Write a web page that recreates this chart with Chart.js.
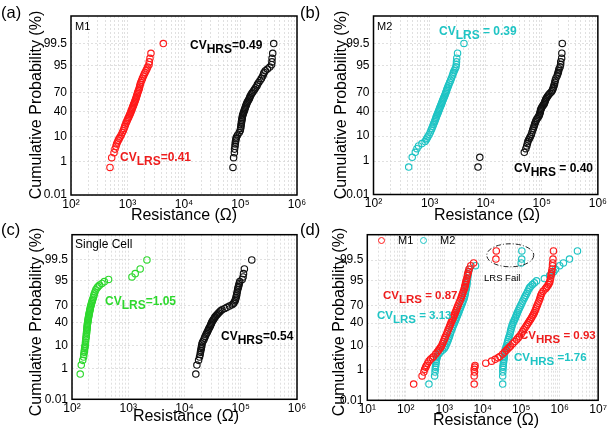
<!DOCTYPE html>
<html>
<head>
<meta charset="utf-8">
<script src="https://cdn.jsdelivr.net/npm/chart.js@4.4.1/dist/chart.umd.min.js"></script>
<style>
  html, body { margin:0; padding:0; background:#fff; }
  body { width:609px; height:433px; position:relative; overflow:hidden; font-family:'Liberation Sans', Arial, sans-serif; }
  canvas { position:absolute; left:0; top:0; }
  .t { position:absolute; white-space:nowrap; line-height:1; color:#000; }
  .pl { font-size:16.5px; }
  .yt { position:absolute; white-space:nowrap; line-height:1; font-size:16px; transform:translate(-50%,-50%) rotate(-90deg); }
  .xt { position:absolute; white-space:nowrap; line-height:1; font-size:16px; transform:translate(-50%,-50%); }
  .cv { font-weight:bold; font-size:12px; }
  .cv .s { position:relative; top:4px; }
  .cvd { font-weight:bold; font-size:11.5px; }
  .cvd .s { position:relative; top:4px; }
  .sm { font-size:11px; }
  .lc { position:absolute; width:7px; height:7px; box-sizing:border-box; border:1px solid; border-radius:50%; }
</style>
</head>
<body>
<canvas id="ca" width="609" height="433"></canvas>
<canvas id="cb" width="609" height="433"></canvas>
<canvas id="cc" width="609" height="433"></canvas>
<canvas id="cd" width="609" height="433"></canvas>

<div class="t pl" style="left:1px;top:4px">(a)</div>
<div class="t pl" style="left:300px;top:4px">(b)</div>
<div class="t pl" style="left:1px;top:221px">(c)</div>
<div class="t pl" style="left:300px;top:221px">(d)</div>

<div class="yt" style="left:36px;top:105px">Cumulative Probability (%)</div>
<div class="yt" style="left:341px;top:105px">Cumulative Probability (%)</div>
<div class="yt" style="left:36px;top:322px">Cumulative Probability (%)</div>
<div class="yt" style="left:339px;top:322px">Cumulative Probability (%)</div>

<div class="xt" style="left:184px;top:215px">Resistance (Ω)</div>
<div class="xt" style="left:487px;top:215px">Resistance (Ω)</div>
<div class="xt" style="left:186px;top:416px">Resistance (Ω)</div>
<div class="xt" style="left:486px;top:420px">Resistance (Ω)</div>

<div class="t sm" style="left:75px;top:21px">M1</div>
<div class="t cv" style="left:190px;top:39px">CV<span class="s">HRS</span>=0.49</div>
<div class="t cv" style="left:120px;top:151px;color:#ee1c1c">CV<span class="s">LRS</span>=0.41</div>

<div class="t sm" style="left:377px;top:21px">M2</div>
<div class="t cv" style="left:439px;top:25px;color:#1fc4c4">CV<span class="s">LRS</span> = 0.39</div>
<div class="t cv" style="left:514px;top:162px">CV<span class="s">HRS</span> = 0.40</div>

<div class="t" style="left:75px;top:238px;font-size:12px">Single Cell</div>
<div class="t cv" style="left:105px;top:295px;color:#2ed82e">CV<span class="s">LRS</span>=1.05</div>
<div class="t cv" style="left:221px;top:330px">CV<span class="s">HRS</span>=0.54</div>

<span class="lc" style="left:378px;top:236.5px;border-color:#ff1a1a"></span>
<div class="t sm" style="left:398px;top:235px">M1</div>
<span class="lc" style="left:420px;top:236.5px;border-color:#1fc4c4"></span>
<div class="t sm" style="left:440px;top:235px">M2</div>
<div class="t cvd" style="left:383px;top:290px;color:#ee1c1c">CV<span class="s">LRS</span> = 0.87</div>
<div class="t cvd" style="left:377px;top:310px;color:#1fc4c4">CV<span class="s">LRS</span> = 3.13</div>
<div class="t cvd" style="left:520px;top:330px;color:#ee1c1c">CV<span class="s">HRS</span> = 0.93</div>
<div class="t cvd" style="left:514px;top:352px;color:#1fc4c4">CV<span class="s">HRS</span> =1.76</div>
<div class="t" style="left:484px;top:273px;font-size:9.5px">LRS Fail</div>

<script>
// ---------------- data ----------------
// cumulative probability (%) of each plotted point, panels a-c
const probABC = [
  0.5,1.5,2.5,3.5,4.5,5.5,6.5,7.5,8.5,9.5,
  11,13,15,17,19,21,23,25,27,29,
  31,33,35,37,39,41,43,45,47,49,
  51,53,55,57,59,61,63,65,67,69,
  71,73,75,77,79,81,83,85,87,89,
  90.5,91.5,92.5,93.5,94.5,95.5,96.5,97.5,98.5,99.5
];
// resistance (ohm), panel (a) M1
const aLRS = [
  490,525,577,601,625,642,665,689,715,740,
  775,810,844,868,892,915,940,965,990,1015,
  1045,1070,1095,1120,1145,1165,1190,1210,1235,1260,
  1280,1305,1330,1355,1380,1405,1430,1450,1475,1500,
  1525,1560,1600,1625,1650,1680,1720,1780,1840,1920,
  1985,2050,2125,2200,2276,2400,2430,2500,2600,4300
];
const aHRS = [
  73500,75500,78000,78500,80000,80500,81500,82500,83500,85000,
  89000,95000,99000,100500,101500,102500,103500,104500,105500,106500,
  107500,108500,110000,112000,114000,116000,118000,120000,122000,124000,
  126500,129000,131000,135000,139000,143000,146000,148500,153000,158000,
  164000,171000,178000,185000,195000,200000,210000,222000,235000,248000,
  256000,262000,275000,300000,330000,355000,360000,362000,372000,387000
];
// panel (b) M2
const bLRS = [
  424,490,556,594,636,730,830,870,900,930,
  980,1030,1070,1105,1140,1170,1200,1230,1260,1290,
  1310,1340,1370,1400,1430,1455,1485,1515,1545,1575,
  1610,1640,1670,1700,1735,1775,1810,1850,1890,1930,
  1970,2010,2050,2100,2160,2220,2290,2370,2450,2550,
  2620,2680,2750,2850,2950,3000,3020,3050,3150,4100
];
const bHRS = [
  7300,7850,48800,52000,54000,55500,56500,58500,60500,62500,
  65000,67000,69000,71000,73000,74500,76000,78000,80000,83000,
  86500,89500,91000,92500,94000,95000,96000,98500,101000,104000,
  108000,111000,113000,115000,117000,120000,124000,128000,133000,140000,
  148000,154000,158000,161000,165000,168000,171000,174000,179000,188000,
  193000,197000,200000,203000,212000,217000,218000,226000,228000,232000
];
// panel (c) single cell
const cLRS = [
  140,146,155,161,162,165,166,168,169,171,
  173,174,175,177,179,180,181,182,183,184,
  185,186,187,188,189,191,192,193,195,196,
  198,200,201,203,205,207,209,211,213,216,
  219,222,226,230,234,240,244,249,256,265,
  278,290,309,341,375,447,1164,1330,1630,2150
];
const cHRS = [
  15900,16600,17800,18500,19000,19200,19500,19800,20000,20200,
  20400,21000,22000,22700,23300,24000,24800,25500,26200,26800,
  27500,28300,29000,29500,30200,30700,31500,32500,33500,34500,
  35300,37000,38500,40200,42000,44000,46500,52000,57000,63000,
  70000,74500,77000,79500,81000,82500,84000,85000,86500,88000,
  89500,91000,92500,94000,96000,106000,110000,112000,116000,157000
];
// panel (d): cumulative probability (%) of each plotted point
const probD = [
  0.14,0.43,0.71,1.0,1.29,1.57,2.0,2.5,3,3.5,
  4,5,6,7,8,9,10,12,14,16,
  18,20,23,26,29,32,35,38,41,44,
  47,50,53,56,59,62,65,68,71,74,
  77,80,82,84,86,88,90,91,92,93,
  94,95,96,97,97.5,98,98.5,99,99.29,99.57,99.86
];
const dM1LRS = [
  160,265,295,310,330,345,370,400,440,490,
  530,600,660,710,760,810,850,900,950,1000,
  1040,1080,1150,1210,1270,1330,1390,1450,1510,1580,
  1650,1720,1790,1860,1940,2020,2100,2200,2300,2420,
  2550,2700,2800,2900,3000,3150,3300,3380,3450,3520,
  3600,3700,3850,4000,4100,4250,4400,4900,5800,22000,22500
];
const dM1HRS = [
  6000,6000,6100,6000,6200,6300,12000,17000,21000,25000,
  28000,33000,37000,41000,45000,49000,53000,60000,68000,76000,
  83000,90000,100000,108000,116000,125000,135000,145000,155000,165000,
  176000,187000,198000,210000,220000,230000,240000,250000,262000,275000,
  290000,305000,315000,325000,340000,370000,420000,450000,480000,510000,
  540000,560000,580000,595000,605000,620000,635000,650000,660000,670000,690000
];
const dM2LRS = [
  400,560,575,585,590,600,610,620,630,640,
  660,720,800,900,990,1040,1090,1160,1220,1270,
  1320,1370,1430,1490,1560,1630,1700,1780,1860,1940,
  2020,2100,2180,2270,2370,2470,2570,2680,2800,2950,
  3100,3250,3350,3430,3520,3600,3700,3750,3800,3850,
  3900,3950,4050,4150,4200,4280,4500,6500,100000,103000,104000
];
const dM2HRS = [
  33000,33000,33200,33400,33600,34000,34500,35000,35500,36000,
  36300,36900,37500,38500,39500,40500,41500,43000,44500,46000,
  47500,49000,51000,52500,54000,55500,57500,59500,62000,65000,
  68000,71000,74000,77000,80000,84000,88000,93000,98000,104000,
  110000,118000,124000,131000,139000,148000,158000,166000,178000,195000,
  220000,250000,400000,550000,620000,700000,780000,1000000,1250000,1800000,2900000
];
// axis ticks
const yTickValues = [0.01, 1, 10, 40, 70, 95, 99.5];
const yTickLabels = ['0.01', '1', '10', '40', '70', '95', '99.5'];
const xTickValuesABC = [1e2, 1e3, 1e4, 1e5, 1e6];
const xTickLabelsABC = ['10²', '10³', '10⁴', '10⁵', '10⁶'];
const xTickValuesD = [1e1, 1e2, 1e3, 1e4, 1e5, 1e6, 1e7];
const xTickLabelsD = ['10¹', '10²', '10³', '10⁴', '10⁵', '10⁶', '10⁷'];
// "LRS Fail" ellipse centre (resistance, probability %)
const failR = 52000, failP = 99.74;

// ---------------- helpers ----------------
const RED = '#ff1a1a', CYAN = '#1fc4c4', GREEN = '#2ed82e', BLACK = '#111';
const FONT = "'Liberation Sans Narrow', 'Liberation Sans', Arial, sans-serif";
const W = 609, H = 433;

// inverse standard normal CDF (probability axis transform)
function probit(p) {
  const a=[-3.969683028665376e+01,2.209460984245205e+02,-2.759285104469687e+02,1.383577518672690e+02,-3.066479806614716e+01,2.506628277459239e+00];
  const b=[-5.447609879822406e+01,1.615858368580409e+02,-1.556989798598866e+02,6.680131188771972e+01,-1.328068155288572e+01];
  const c=[-7.784894002430293e-03,-3.223964580411365e-01,-2.400758277161838e+00,-2.549732516109123e+00,4.374664141464968e+00,2.938163982698783e+00];
  const d=[7.784695709041462e-03,3.224671290700398e-01,2.445134137142996e+00,3.754408661907416e+00];
  const pl = 0.02425, ph = 1 - pl;
  let q, r;
  if (p < pl) { q = Math.sqrt(-2*Math.log(p)); return (((((c[0]*q+c[1])*q+c[2])*q+c[3])*q+c[4])*q+c[5])/((((d[0]*q+d[1])*q+d[2])*q+d[3])*q+1); }
  if (p <= ph) { q = p - 0.5; r = q*q; return (((((a[0]*r+a[1])*r+a[2])*r+a[3])*r+a[4])*r+a[5])*q/(((((b[0]*r+b[1])*r+b[2])*r+b[3])*r+b[4])*r+1); }
  q = Math.sqrt(-2*Math.log(1-p)); return -(((((c[0]*q+c[1])*q+c[2])*q+c[3])*q+c[4])*q+c[5])/((((d[0]*q+d[1])*q+d[2])*q+d[3])*q+1);
}
const ZMAX = -probit(0.0001);

const framePlugin = {
  id: 'frame',
  afterDraw(chart, args, opts) {
    const { ctx, chartArea: a } = chart;
    ctx.save();
    if (opts && opts.ellipse) {
      const e = opts.ellipse;
      const cx = chart.scales.x.getPixelForValue(e.r);
      const cy = chart.scales.y.getPixelForValue(probit(e.p / 100));
      ctx.beginPath();
      ctx.setLineDash([5, 2, 1, 2]);
      ctx.strokeStyle = '#222';
      ctx.lineWidth = 1;
      ctx.ellipse(cx, cy, 23.5, 11.5, 0, 0, Math.PI * 2);
      ctx.stroke();
      ctx.setLineDash([]);
    }
    ctx.strokeStyle = '#000';
    ctx.lineWidth = 1.5;
    ctx.strokeRect(a.left, a.top, a.right - a.left, a.bottom - a.top);
    ctx.restore();
  }
};

function makePanel(id, area, xTicks, xLabels, series, frameOpts) {
  const YW = 40, XH = 22;
  const gridVals = [];
  for (let i = 0; i < xTicks.length - 1; i++) for (let k = 1; k < 10; k++) gridVals.push(xTicks[i] * k);
  gridVals.push(xTicks[xTicks.length - 1]);
  return new Chart(document.getElementById(id), {
    type: 'scatter',
    data: {
      datasets: series.map(s => ({
        data: s.r.map((r, i) => ({ x: r, y: probit(s.p[i] / 100) })),
        borderColor: s.color,
        backgroundColor: 'rgba(0,0,0,0)',
        pointRadius: 3.2,
        pointHoverRadius: 3.2,
        pointBorderWidth: 1.15,
        showLine: false
      }))
    },
    options: {
      responsive: false,
      animation: false,
      devicePixelRatio: 1,
      events: [],
      layout: { padding: { left: area.l - YW, top: area.t, right: W - area.r, bottom: H - area.b - XH } },
      plugins: { legend: { display: false }, tooltip: { enabled: false }, frame: frameOpts || {} },
      scales: {
        x: {
          type: 'logarithmic',
          min: xTicks[0], max: xTicks[xTicks.length - 1],
          afterFit(s) { s.height = XH; },
          afterBuildTicks(s) { s.ticks = gridVals.map(v => ({ value: v })); },
          ticks: {
            autoSkip: false, maxRotation: 0, padding: 2, color: '#000',
            font: { size: 12, family: FONT },
            callback(v) {
              const i = xTicks.findIndex(t => Math.abs(t - v) / t < 1e-9);
              return i >= 0 ? xLabels[i] : '';
            }
          },
          grid: { color: '#d8d8d8', lineWidth: 0.8, drawTicks: false },
          border: { display: false, dash: [2, 2] }
        },
        y: {
          type: 'linear',
          min: -ZMAX, max: ZMAX,
          afterFit(s) { s.width = YW; },
          afterBuildTicks(s) { s.ticks = yTickValues.map(p => ({ value: probit(p / 100) })); },
          ticks: {
            autoSkip: false, padding: 4, color: '#000',
            font: { size: 12, family: FONT },
            callback(v, i) { return yTickLabels[i]; }
          },
          grid: { color: '#d8d8d8', lineWidth: 0.8, drawTicks: false },
          border: { display: false, dash: [2, 2] }
        }
      }
    },
    plugins: [framePlugin]
  });
}

makePanel('ca', { l: 71, t: 16, r: 297, b: 195 }, xTickValuesABC, xTickLabelsABC, [
  { p: probABC, r: aLRS, color: RED },
  { p: probABC, r: aHRS, color: BLACK }
]);
makePanel('cb', { l: 373.5, t: 16, r: 600, b: 194.5 }, xTickValuesABC, xTickLabelsABC, [
  { p: probABC, r: bLRS, color: CYAN },
  { p: probABC, r: bHRS, color: BLACK }
]);
makePanel('cc', { l: 72, t: 234.7, r: 297, b: 399.3 }, xTickValuesABC, xTickLabelsABC, [
  { p: probABC, r: cLRS, color: GREEN },
  { p: probABC, r: cHRS, color: BLACK }
]);
makePanel('cd', { l: 367.3, t: 234.7, r: 599, b: 400.3 }, xTickValuesD, xTickLabelsD, [
  { p: probD, r: dM1LRS, color: RED },
  { p: probD, r: dM1HRS, color: RED },
  { p: probD, r: dM2LRS, color: CYAN },
  { p: probD, r: dM2HRS, color: CYAN }
], { ellipse: { r: failR, p: failP } });
</script>
</body>
</html>
